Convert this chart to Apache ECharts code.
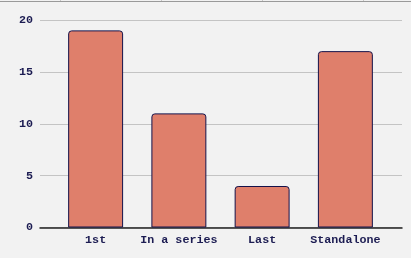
<!DOCTYPE html>
<html><head><meta charset="utf-8">
<script src="https://cdn.jsdelivr.net/npm/echarts@6/dist/echarts.min.js"></script>
<style>html,body{margin:0;padding:0;background:#f2f2f2}#c{width:411px;height:258px}</style>
</head><body><div id="c"></div>
<script>
var categories = ["1st", "In a series", "Last", "Standalone"];
var values = [19, 11, 4, 17];
var yTicks = [0, 5, 10, 15, 20];

var font = "Liberation Mono";
var navy = "#1c1c52";
var chart = echarts.init(document.getElementById('c'), null, {renderer: 'canvas'});
chart.setOption({
  backgroundColor: "#f2f2f2",
  animation: false,
  grid: [
    {left: 40, right: 9, top: 20, bottom: 30.5},
    {left: 54, right: 24, top: 20, bottom: 30.5}
  ],
  xAxis: [
    {gridIndex: 0, type: 'value', min: 0, max: 1, show: true,
     axisLine: {show: true, onZero: false, lineStyle: {color: "#222", width: 1.5}},
     axisTick: {show: false}, axisLabel: {show: false}, splitLine: {show: false}},
    {gridIndex: 1, type: 'category', data: categories, boundaryGap: true,
     axisLine: {show: false}, axisTick: {show: false},
     axisLabel: {color: navy, fontFamily: font, fontWeight: 'bold', fontSize: 11.7, margin: 7, interval: 0}}
  ],
  yAxis: [
    {gridIndex: 0, type: 'value', min: yTicks[0], max: yTicks[yTicks.length-1], interval: 5,
     axisLine: {show: false}, axisTick: {show: false},
     axisLabel: {color: navy, fontFamily: font, fontWeight: 'bold', fontSize: 11.7, margin: 7},
     splitLine: {show: true, lineStyle: {color: "#c4c4c4", width: 1}}},
    {gridIndex: 1, type: 'value', min: yTicks[0], max: yTicks[yTicks.length-1], interval: 5, show: false}
  ],
  series: [{
    type: 'bar', xAxisIndex: 1, yAxisIndex: 1, data: values, barWidth: '66%',
    itemStyle: {color: "#df7f6b", borderColor: "#14124a", borderWidth: 1, borderRadius: [3,3,0,0]}
  }],
  graphic: [
    {type: 'line', shape: {x1: 0, y1: 1.5, x2: 411, y2: 1.5}, style: {stroke: '#9a9a9a', lineWidth: 1}},
    {type: 'line', shape: {x1: 60.5, y1: 0, x2: 60.5, y2: 1}, style: {stroke: '#c8c8c8', lineWidth: 1}},
    {type: 'line', shape: {x1: 161.5, y1: 0, x2: 161.5, y2: 1}, style: {stroke: '#c8c8c8', lineWidth: 1}},
    {type: 'line', shape: {x1: 262.5, y1: 0, x2: 262.5, y2: 1}, style: {stroke: '#c8c8c8', lineWidth: 1}},
    {type: 'line', shape: {x1: 363.5, y1: 0, x2: 363.5, y2: 1}, style: {stroke: '#c8c8c8', lineWidth: 1}}
  ]
});
</script></body></html>
